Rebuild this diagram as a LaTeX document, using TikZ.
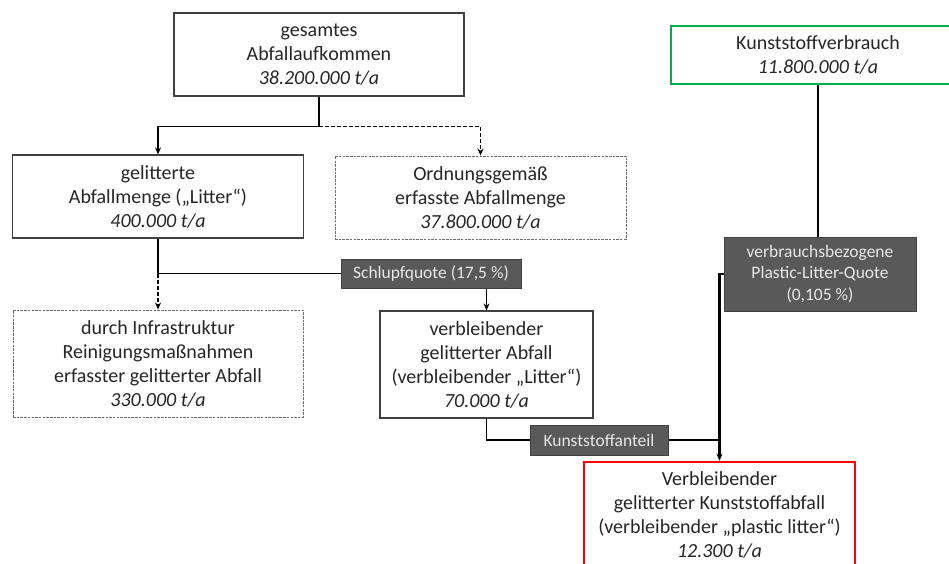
\documentclass[tikz,border=0pt]{standalone}
\usepackage{fontspec}
\setmainfont{Carlito}
\usepackage{xcolor}
\usepackage{tikz}
\usetikzlibrary{arrows.meta}
\definecolor{txt}{HTML}{262626}
\definecolor{rim}{HTML}{404040}
\definecolor{labelfill}{HTML}{595959}
\definecolor{labeltext}{HTML}{E8E8E8}
\definecolor{kgreen}{HTML}{00B050}

\begin{document}
\begin{tikzpicture}[x=1pt, y=-1pt, line width=1.3pt, >={Stealth[length=7pt,width=6pt]},
  box/.style = {draw=rim, line width=1.2pt, fill=white, text=txt, align=center, inner sep=0pt, font=\fontsize{20}{24}\selectfont},
  hidden/.style = {box, draw=gray!85!black, line width=0.9pt, dash pattern=on 2.5pt off 1.2pt},
  quota/.style = {draw=rim, line width=1pt, fill=labelfill, text=labeltext, align=center, inner sep=0pt, font=\fontsize{17.5}{21.5}\selectfont},
  source/.style = {box, draw=kgreen, line width=2.5pt},
  result/.style = {box, draw=red, line width=2.5pt},
  dashline/.style = {dash pattern=on 4pt off 2pt}]
\useasboundingbox (0,0) rectangle (949,564);
\node[box, minimum width=290pt, minimum height=83pt] (total) at (319,54.5) {gesamtes\\Abfallaufkommen\\\textit{38.200.000 t/a}};
\node[box, minimum width=291pt, minimum height=83pt] (litter) at (158,196.5) {gelitterte\\Abfallmenge („Litter“)\\\textit{400.000 t/a}};
\node[hidden, minimum width=291pt, minimum height=83pt] (proper) at (480.5,197.5) {Ordnungsgemäß\\erfasste Abfallmenge\\\textit{37.800.000 t/a}};
\node[quota, minimum width=180pt, minimum height=29pt] (slip) at (431,273.5) {Schlupfquote (17,5 \%)};
\node[hidden, minimum width=290pt, minimum height=107pt] (cleaned) at (158,363.5) {durch Infrastruktur\\Reinigungsmaßnahmen\\erfasster gelitterter Abfall\\\textit{330.000 t/a}};
\node[box, minimum width=213pt, minimum height=107pt] (remain) at (486.5,364.5) {verbleibender\\gelitterter Abfall\\(verbleibender „Litter“)\\\textit{70.000 t/a}};
\node[quota, minimum width=138pt, minimum height=30pt] (share) at (599,440) {Kunststoffanteil};
\node[source, minimum width=294pt, minimum height=58pt] (usage) at (818,55) {Kunststoffverbrauch\\\textit{11.800.000 t/a}};
\node[quota, minimum width=192pt, minimum height=74pt] (plq) at (820,274) {verbrauchsbezogene\\Plastic-Litter-Quote\\(0,105 \%)};
\node[result, minimum width=271pt, minimum height=106pt] (plastic) at (719.5,515) {Verbleibender\\gelitterter Kunststoffabfall\\(verbleibender „plastic litter“)\\\textit{12.300 t/a}};
% Abfallstrom
\draw[->] (total.south) -- ++(0,30) -| (litter.north);
\draw[->, dashline] (total.south) ++(0,30) -| (proper.north);
\draw (litter.south) |- (slip.west);
\draw[->, dashline] (litter.south |- slip.west) -- (cleaned.north);
\draw[->] (slip.south -| remain.north) -- (remain.north);
\draw (remain.south) |- (share.west);
\draw (share.east) -- (share.east -| plastic.north);
% Kunststoffverbrauch
\draw[line width=2.2pt] (usage.south) -- (usage.south |- plq.north);
\draw[line width=2.2pt, ->] (plq.west) -| (plastic.north);
\end{tikzpicture}
\end{document}
